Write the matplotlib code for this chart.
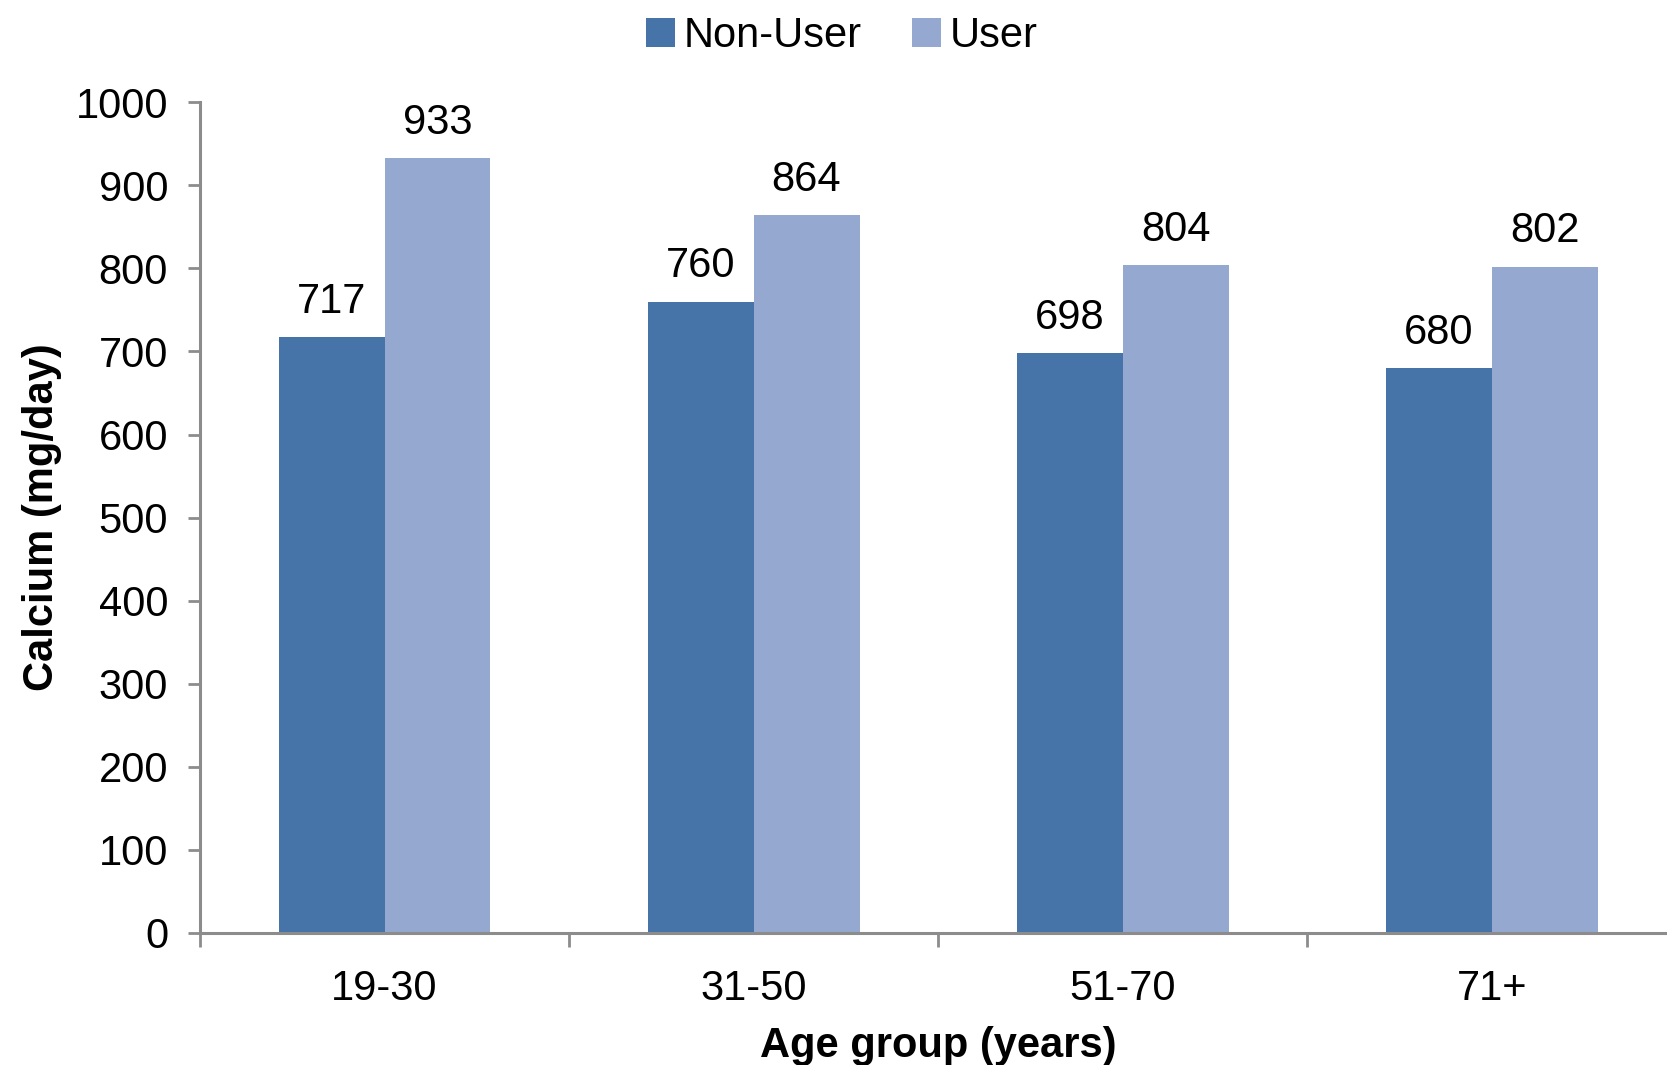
import matplotlib

matplotlib.use("Agg")
import matplotlib.pyplot as plt
import numpy as np

plt.rcParams["font.family"] = ["Liberation Sans", "DejaVu Sans"]

# data
age_groups = ["19-30", "31-50", "51-70", "71+"]
non_user = [717, 760, 698, 680]
user = [933, 864, 804, 802]
series_names = ["Non-User", "User"]
y_ticks = list(range(0, 1001, 100))

dark_blue = "#4673A8"
light_blue = "#95A9D0"
axis_grey = "#8C8C8C"
font_size = 30

fig = plt.figure(figsize=(16.67, 10.65), dpi=100)
ax = fig.add_axes([0.12, 0.124, 0.8855, 0.780])

centers = np.arange(len(age_groups)) + 0.5
width = 0.287
bars_a = ax.bar(centers - width / 2, non_user, width, color=dark_blue, label=series_names[0])
bars_b = ax.bar(centers + width / 2, user, width, color=light_blue, label=series_names[1])

for bars in (bars_a, bars_b):
    for bar in bars:
        h = bar.get_height()
        ax.annotate(
            f"{h:.0f}",
            (bar.get_x() + bar.get_width() / 2, h),
            xytext=(0, 11),
            textcoords="offset points",
            ha="center",
            va="bottom",
            fontsize=font_size,
        )

ax.set_xlim(0, len(age_groups))
ax.set_ylim(0, 1000)
ax.set_yticks(y_ticks)
ax.tick_params(axis="y", labelsize=font_size, length=9, width=2, color=axis_grey, pad=14)

# boundaries get the tick marks, centres get the labels
ax.set_xticks(np.arange(len(age_groups) + 1))
ax.set_xticklabels([])
ax.tick_params(axis="x", which="major", length=10, width=2, color=axis_grey)
ax.set_xticks(centers, minor=True)
ax.set_xticklabels(age_groups, minor=True)
ax.tick_params(axis="x", which="minor", length=0, labelsize=font_size, pad=26)

for side in ("top", "right"):
    ax.spines[side].set_visible(False)
for side in ("left", "bottom"):
    ax.spines[side].set_color(axis_grey)
    ax.spines[side].set_linewidth(2.2)

ax.set_ylabel("Calcium (mg/day)", fontsize=font_size, fontweight="bold", labelpad=10)
ax.set_xlabel("Age group (years)", fontsize=font_size, fontweight="bold", labelpad=12)

fig.legend(
    loc="upper center",
    bbox_to_anchor=(0.505, 1.02),
    ncol=2,
    frameon=False,
    fontsize=font_size,
    handlelength=0.7,
    handleheight=0.7,
    handletextpad=0.2,
    columnspacing=1.2,
)

fig.savefig("out.png", dpi=100)
